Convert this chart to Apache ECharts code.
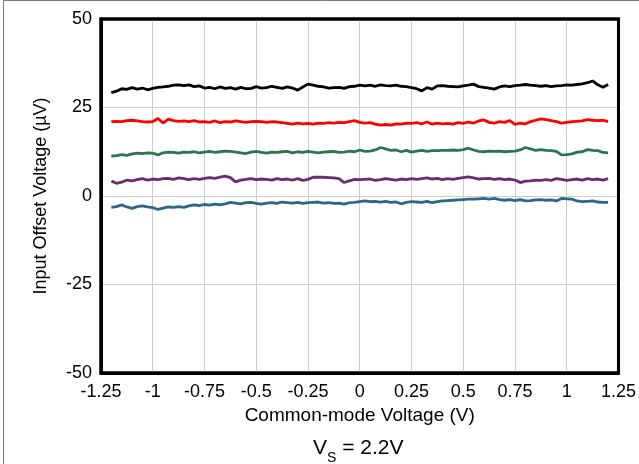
<!DOCTYPE html>
<html>
<head>
<meta charset="utf-8">
<script src="https://cdn.jsdelivr.net/npm/echarts@6/dist/echarts.min.js"></script>
<style>html,body{margin:0;padding:0;background:#fff}#c{width:639px;height:464px}</style>
</head>
<body>
<div id="c"></div>
<script>
const xValues = [
-1.2,-1.175,-1.15,-1.125,-1.1,-1.075,-1.05,-1.025,-1,-0.975,
-0.95,-0.925,-0.9,-0.875,-0.85,-0.825,-0.8,-0.775,-0.75,-0.725,
-0.7,-0.675,-0.65,-0.625,-0.6,-0.575,-0.55,-0.525,-0.5,-0.475,
-0.45,-0.425,-0.4,-0.375,-0.35,-0.325,-0.3,-0.275,-0.25,-0.225,
-0.2,-0.175,-0.15,-0.125,-0.1,-0.075,-0.05,-0.025,0,0.025,
0.05,0.075,0.1,0.125,0.15,0.175,0.2,0.225,0.25,0.275,
0.3,0.325,0.35,0.375,0.4,0.425,0.45,0.475,0.5,0.525,
0.55,0.575,0.6,0.625,0.65,0.675,0.7,0.725,0.75,0.775,
0.8,0.825,0.85,0.875,0.9,0.925,0.95,0.975,1,1.025,
1.05,1.075,1.1,1.125,1.15,1.175,1.2];

const black = [
29.2,29.6,30.3,30.1,30.6,30.2,30.5,30.0,30.4,30.7,
30.8,31.0,31.3,31.4,31.2,31.4,30.9,31.1,30.5,30.7,
30.3,30.8,30.4,30.6,30.2,30.7,30.3,30.4,30.9,30.5,
30.6,31.0,30.7,30.4,30.8,30.5,29.9,30.8,31.6,31.3,
31.0,30.8,30.5,30.6,30.7,30.4,30.9,31.0,31.3,31.1,
31.3,31.0,31.4,31.2,31.1,31.3,31.0,30.9,30.6,30.3,
29.7,30.6,30.2,31.1,31.2,31.0,30.9,30.8,31.1,31.3,
31.6,30.9,30.7,30.5,30.2,30.8,31.1,30.9,31.2,31.3,
31.5,31.3,31.2,31.0,31.2,30.9,31.1,31.2,31.4,31.3,
31.5,31.7,32.0,32.5,31.4,30.7,31.5];

const red = [
21.0,21.1,21.0,21.3,21.4,21.2,21.0,20.9,21.0,21.9,
20.6,21.7,21.3,21.1,21.2,21.0,21.3,20.9,21.0,20.8,
21.2,20.7,21.0,20.9,21.2,21.0,20.8,21.0,21.1,21.0,
20.8,21.0,20.9,20.7,20.5,20.3,20.6,20.4,20.5,20.3,
20.6,20.5,20.7,20.6,20.8,20.7,21.0,21.3,20.8,20.6,
20.7,20.3,20.0,20.2,20.0,20.4,20.3,20.6,20.5,20.7,
20.4,20.9,20.3,20.6,20.4,20.5,20.3,20.7,20.5,20.9,
20.6,21.2,21.5,20.8,20.6,21.0,20.8,21.3,20.2,20.6,
20.4,21.0,21.4,21.8,21.6,21.3,21.0,20.6,20.8,21.0,
21.1,21.2,21.6,21.4,21.3,21.4,21.0];

const green = [
11.3,11.4,11.7,11.5,11.9,12.1,12.0,12.2,12.1,11.6,
12.2,12.4,12.3,12.1,12.4,12.3,12.5,12.2,12.4,12.6,
12.3,12.5,12.7,12.6,12.4,12.2,12.0,12.4,12.6,12.3,
12.1,12.4,12.3,12.5,12.6,12.2,12.5,12.3,12.6,12.4,
12.2,12.4,12.5,12.6,12.3,12.4,12.7,12.5,13.0,12.6,
12.7,13.0,13.7,13.3,12.9,13.0,12.5,12.9,12.4,12.7,
12.9,12.6,12.8,12.8,12.9,12.9,13.0,12.9,13.1,13.5,
13.0,12.6,12.5,12.7,12.6,12.7,12.5,12.6,12.7,13.0,
13.7,13.3,12.9,13.1,12.9,12.8,12.6,11.6,11.7,11.9,
12.4,12.5,13.1,12.9,12.8,12.3,12.2];

const purple = [
4.2,3.6,3.9,4.5,4.3,4.6,4.9,4.5,4.8,4.6,
4.9,5.0,4.7,5.1,4.9,4.6,4.9,4.7,5.0,5.2,
5.0,5.3,5.6,5.2,4.0,4.5,4.7,4.9,4.6,4.8,
4.7,4.5,4.9,4.6,4.8,4.5,4.9,4.4,4.7,5.3,
5.3,5.3,5.2,5.1,4.9,3.8,4.3,4.7,4.6,4.7,
4.8,4.4,4.6,4.9,4.7,4.5,4.8,4.6,4.9,4.7,
4.9,5.1,4.8,5.0,4.6,4.9,4.7,5.0,5.2,5.4,
5.1,4.8,4.9,5.0,4.7,4.9,4.6,4.8,4.5,3.8,
4.2,4.3,4.5,4.4,4.6,4.4,4.9,4.7,4.4,4.6,
4.8,4.5,4.9,4.6,4.8,4.5,4.9];

const blue = [
-3.2,-3.0,-2.5,-3.1,-3.5,-3.0,-2.8,-3.1,-3.3,-3.8,
-3.4,-3.1,-3.2,-3.0,-3.2,-2.8,-2.5,-2.7,-2.4,-2.6,
-2.3,-2.5,-2.2,-1.8,-2.0,-2.2,-1.9,-1.8,-2.1,-2.3,
-2.0,-1.9,-2.1,-1.7,-1.9,-2.0,-1.8,-2.1,-1.9,-1.8,
-1.7,-2.0,-1.9,-2.1,-2.0,-2.3,-1.9,-1.8,-1.6,-1.4,
-1.6,-1.5,-1.7,-1.5,-1.8,-1.7,-2.2,-1.8,-1.6,-1.7,
-1.8,-1.5,-1.9,-1.6,-1.4,-1.3,-1.2,-1.1,-1.0,-0.9,
-0.9,-0.8,-0.7,-0.9,-0.7,-1.0,-1.2,-1.0,-1.3,-1.0,
-1.4,-1.3,-1.1,-1.0,-1.2,-1.1,-1.4,-0.7,-0.8,-0.9,
-1.4,-1.6,-1.5,-1.4,-1.7,-1.8,-1.8];

const seriesList = [
  {name: 'S1', values: black, color: '#000000'},
  {name: 'S2', values: red, color: '#ff0000'},
  {name: 'S3', values: green, color: '#2e7452'},
  {name: 'S4', values: purple, color: '#6b2c6e'},
  {name: 'S5', values: blue, color: '#2e6783'}
];

const xTitle = 'Common-mode Voltage (V)';
const yTitle = 'Input Offset Voltage (µV)';
const FONT = '"Liberation Sans", Arial, sans-serif';
const X_MIN = -1.25, X_MAX = 1.25, Y_MIN = -50, Y_MAX = 50;

const GL = 101, GT = 19, GW = 521, GH = 354;

const lineSeries = seriesList.map(s => ({
  name: s.name, type: 'line', showSymbol: false, symbol: 'none', smooth: false,
  lineStyle: {color: s.color, width: 2.8},
  data: xValues.map((x, i) => [x, s.values[i]])
}));

// plot-box outline traced along the axis extents
const boxSeries = {
  name: 'frame', type: 'line', showSymbol: false, symbol: 'none', clip: false, silent: true, z: 10,
  lineStyle: {color: '#000000', width: 3, cap: 'square', join: 'miter'},
  data: [[X_MIN, Y_MAX], [X_MAX, Y_MAX], [X_MAX, Y_MIN], [X_MIN, Y_MIN], [X_MIN, Y_MAX]]
};

const chart = echarts.init(document.getElementById('c'), null, {renderer: 'canvas'});
chart.setOption({
  animation: false,
  backgroundColor: '#fff',
  title: {
    text: '{a|V}{s|S}{a| = 2.2V}',
    left: 313,
    top: 435,
    padding: 0,
    textStyle: {
      fontWeight: 'normal',
      rich: {
        a: {fontFamily: FONT, fontSize: 21, fontWeight: 'normal', color: '#000', lineHeight: 24, verticalAlign: 'bottom'},
        s: {fontFamily: FONT, fontSize: 14, fontWeight: 'normal', color: '#000', lineHeight: 24, verticalAlign: 'bottom', padding: [0, 0, -6, 0]}
      }
    }
  },
  graphic: [
    {type: 'rect', z: 0, silent: true, shape: {x: 3.5, y: 0.5, width: 700, height: 600},
     style: {fill: 'rgba(0,0,0,0)', stroke: '#7a7a7a', lineWidth: 1}}
  ],
  grid: {left: GL, top: GT, width: GW, height: GH, containLabel: false,
         show: true, borderColor: '#000000', borderWidth: 3, backgroundColor: 'rgba(0,0,0,0)'},
  xAxis: {
    type: 'value', min: X_MIN, max: X_MAX, interval: 0.25,
    name: xTitle, nameLocation: 'middle', nameGap: 31,
    nameTextStyle: {fontFamily: FONT, fontSize: 19, color: '#000'},
    axisLine: {show: true, onZero: false, lineStyle: {color: '#000000', width: 3}}, axisTick: {show: false},
    axisLabel: {fontFamily: FONT, fontSize: 18, color: '#000', margin: 10, formatter: v => String(+v.toFixed(2))},
    splitLine: {show: true, lineStyle: {color: '#cccccc', width: 1}}
  },
  yAxis: {
    type: 'value', min: Y_MIN, max: Y_MAX, interval: 25,
    name: yTitle, nameLocation: 'middle', nameGap: 51, nameRotate: 90,
    nameTextStyle: {fontFamily: FONT, fontSize: 18, color: '#000'},
    axisLine: {show: true, onZero: false, lineStyle: {color: '#000000', width: 3}}, axisTick: {show: false},
    axisLabel: {fontFamily: FONT, fontSize: 18, color: '#000', margin: 9},
    splitLine: {show: true, lineStyle: {color: '#cccccc', width: 1}}
  },
  series: lineSeries.concat([boxSeries])
});
</script>
</body>
</html>
